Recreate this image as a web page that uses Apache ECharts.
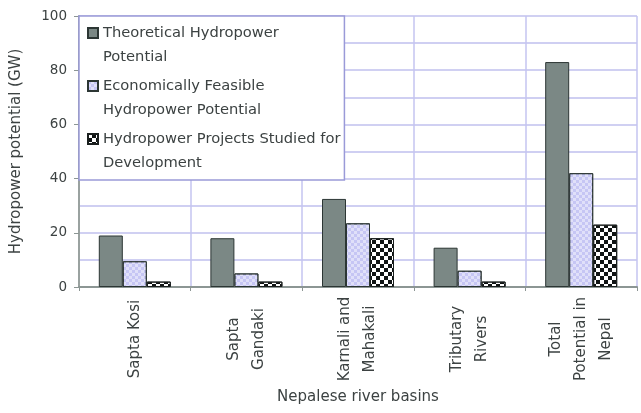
<!DOCTYPE html>
<html>
<head>
<meta charset="utf-8">
<script src="https://cdn.jsdelivr.net/npm/echarts@6/dist/echarts.min.js"></script>
<style>
  html, body { margin: 0; padding: 0; background: #fff; }
  #chart { width: 641px; height: 413px; }
</style>
</head>
<body>
<div id="chart"></div>
<script>
// River basins of Nepal and their hydropower potential (GW)
const categories = ['Sapta Kosi', 'Sapta\nGandaki', 'Karnali and\nMahakali', 'Tributary\nRivers', 'Total\nPotential in\nNepal'];
const theoretical = [19, 18, 32.5, 14.5, 83];
const economic = [9.5, 5, 23.5, 6, 42];
const projects = [2, 2, 18, 2, 23];

const seriesNames = [
  'Theoretical Hydropower\nPotential',
  'Economically Feasible\nHydropower Potential',
  'Hydropower Projects Studied for\nDevelopment'
];
const yTicks = [0, 20, 40, 60, 80, 100];

const FONT = 'DejaVu Sans';
const TEXT = '#3c4242';

// square legend swatch sitting on the first text line
const legendIcon = 'path://M0,0H10V10H0Z M0,34';

const chart = echarts.init(document.getElementById('chart'), null, { renderer: 'canvas' });

chart.setOption({
  animation: false,
  backgroundColor: '#ffffff',
  textStyle: { fontFamily: FONT },
  grid: { left: 79, right: 4, top: 16, bottom: 126, containLabel: false, outerBoundsMode: 'none' },
  legend: {
    orient: 'vertical',
    left: 79,
    top: 16,
    padding: [5, 4, 5, 8],
    itemGap: 5,
    itemWidth: 10,
    itemHeight: 34,
    icon: legendIcon,
    backgroundColor: '#ffffff',
    borderColor: '#9a9ad8',
    borderWidth: 1.5,
    textStyle: { fontFamily: FONT, fontSize: 14.7, color: TEXT, lineHeight: 24 },
    data: seriesNames
  },
  xAxis: {
    type: 'category',
    data: categories,
    name: 'Nepalese river basins',
    nameLocation: 'middle',
    nameGap: 103,
    nameTextStyle: { fontFamily: FONT, fontSize: 15, color: TEXT },
    axisLine: { show: true, lineStyle: { color: '#8c9694', width: 2 } },
    axisTick: { show: true, alignWithLabel: false, length: 4, lineStyle: { color: '#8c9694' } },
    axisLabel: {
      rotate: 90,
      align: 'center',
      verticalAlign: 'middle',
      margin: 52,
      interval: 0,
      fontFamily: FONT,
      fontSize: 15,
      lineHeight: 25,
      color: TEXT
    },
    splitLine: { show: true, lineStyle: { color: '#c4c4f0', width: 1.5 } }
  },
  yAxis: {
    type: 'value',
    min: yTicks[0],
    max: yTicks[yTicks.length - 1],
    interval: 20,
    name: 'Hydropower potential (GW)',
    nameLocation: 'middle',
    nameGap: 55,
    nameTextStyle: { fontFamily: FONT, fontSize: 15, color: TEXT },
    axisLine: { show: true, lineStyle: { color: '#9aa2a0', width: 2 } },
    axisTick: { show: true, length: 5, lineStyle: { color: '#8c9694' } },
    axisLabel: { margin: 12, fontFamily: FONT, fontSize: 13.5, color: TEXT },
    splitLine: { show: true, lineStyle: { color: '#c0c0ee', width: 1.5 } },
    minorTick: { show: false, splitNumber: 2 },
    minorSplitLine: { show: true, lineStyle: { color: '#c0c0ee', width: 1.5 } }
  },
  series: [
    {
      name: seriesNames[0],
      type: 'bar',
      data: theoretical,
      barWidth: 24,
      barGap: '0%',
      itemStyle: { color: '#7b8885', borderColor: '#2c3634', borderWidth: 1 }
    },
    {
      name: seriesNames[1],
      type: 'bar',
      data: economic,
      barWidth: 24,
      barGap: '0%',
      itemStyle: {
        color: '#c6c6f4',
        borderColor: '#2c3634',
        borderWidth: 1,
        decal: {
          symbol: 'rect',
          symbolSize: 1,
          color: 'rgba(255,255,255,0.45)',
          dashArrayX: [[3, 3], [0, 3, 3, 0]],
          dashArrayY: [3, 0],
          rotation: 0
        }
      }
    },
    {
      name: seriesNames[2],
      type: 'bar',
      data: projects,
      barWidth: 24,
      barGap: '0%',
      itemStyle: {
        color: '#ffffff',
        borderColor: '#1a1f1e',
        borderWidth: 1,
        decal: {
          symbol: 'rect',
          symbolSize: 1,
          color: '#101414',
          dashArrayX: [[4, 4], [0, 4, 4, 0]],
          dashArrayY: [4, 0],
          rotation: 0
        }
      }
    }
  ]
});
</script>
</body>
</html>
